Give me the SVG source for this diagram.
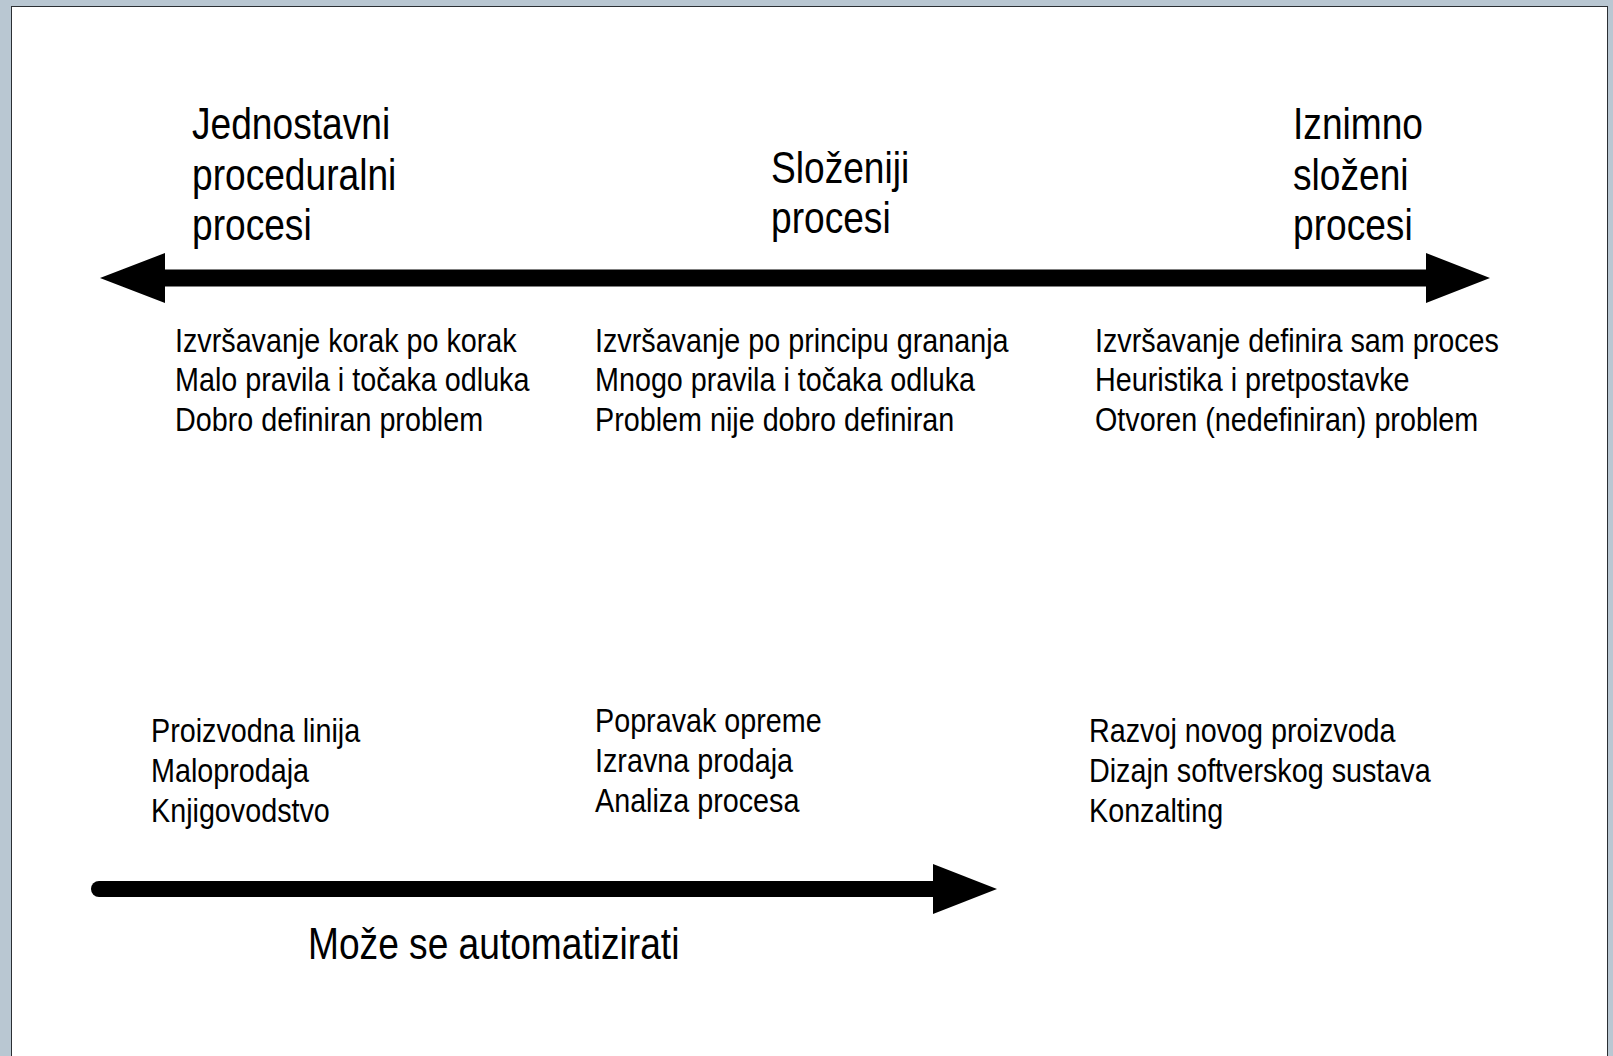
<svg xmlns="http://www.w3.org/2000/svg" width="1613" height="1056" viewBox="0 0 1613 1056">
<style>
.h{font-family:"Liberation Sans",Arial,sans-serif;font-size:45px;fill:#000}
.b{font-family:"Liberation Sans",Arial,sans-serif;font-size:34px;fill:#000}
.arr{fill:#000}
</style>
<rect x="0" y="0" width="1613" height="1056" fill="#b9c7d2"/>
<rect x="11.5" y="6.5" width="1596" height="1060" fill="#fff" stroke="#2b2f33" stroke-width="1"/>
<g id="connectors">
<polygon class="arr" points="100,278 165,253 165,269.5 1426,269.5 1426,253 1490,278 1426,303 1426,286.5 165,286.5 165,303"/>
<line x1="99" y1="889" x2="936" y2="889" stroke="#000" stroke-width="16" stroke-linecap="round"/>
<polygon class="arr" points="933,864 997,889 933,914"/>
</g>
<g id="heading-simple">
<text class="h" transform="matrix(0.825 0 0 1 192 139)"><tspan x="0" y="0">Jednostavni</tspan><tspan x="0" y="51">proceduralni</tspan><tspan x="0" y="101">procesi</tspan></text>
</g>
<g id="heading-complex">
<text class="h" transform="matrix(0.825 0 0 1 771 183)"><tspan x="0" y="0">Složeniji</tspan><tspan x="0" y="50">procesi</tspan></text>
</g>
<g id="heading-very-complex">
<text class="h" transform="matrix(0.825 0 0 1 1293 139)"><tspan x="0" y="0">Iznimno</tspan><tspan x="0" y="51">složeni</tspan><tspan x="0" y="101">procesi</tspan></text>
</g>
<g id="traits-simple">
<text class="b" transform="matrix(0.845 0 0 1 175 352)"><tspan x="0" y="0">Izvršavanje korak po korak</tspan><tspan x="0" y="39.5">Malo pravila i točaka odluka</tspan><tspan x="0" y="79">Dobro definiran problem</tspan></text>
</g>
<g id="traits-complex">
<text class="b" transform="matrix(0.845 0 0 1 595 352)"><tspan x="0" y="0">Izvršavanje po principu grananja</tspan><tspan x="0" y="39.5">Mnogo pravila i točaka odluka</tspan><tspan x="0" y="79">Problem nije dobro definiran</tspan></text>
</g>
<g id="traits-very-complex">
<text class="b" transform="matrix(0.845 0 0 1 1095 352)"><tspan x="0" y="0">Izvršavanje definira sam proces</tspan><tspan x="0" y="39.5">Heuristika i pretpostavke</tspan><tspan x="0" y="79">Otvoren (nedefiniran) problem</tspan></text>
</g>
<g id="examples-simple">
<text class="b" transform="matrix(0.845 0 0 1 151 742)"><tspan x="0" y="0">Proizvodna linija</tspan><tspan x="0" y="40">Maloprodaja</tspan><tspan x="0" y="80">Knjigovodstvo</tspan></text>
</g>
<g id="examples-complex">
<text class="b" transform="matrix(0.845 0 0 1 595 732)"><tspan x="0" y="0">Popravak opreme</tspan><tspan x="0" y="40">Izravna prodaja</tspan><tspan x="0" y="80">Analiza procesa</tspan></text>
</g>
<g id="examples-very-complex">
<text class="b" transform="matrix(0.845 0 0 1 1089 742)"><tspan x="0" y="0">Razvoj novog proizvoda</tspan><tspan x="0" y="40">Dizajn softverskog sustava</tspan><tspan x="0" y="80">Konzalting</tspan></text>
</g>
<g id="label-automate">
<text class="h" transform="matrix(0.825 0 0 1 308 959)">Može se automatizirati</text>
</g>
</svg>
